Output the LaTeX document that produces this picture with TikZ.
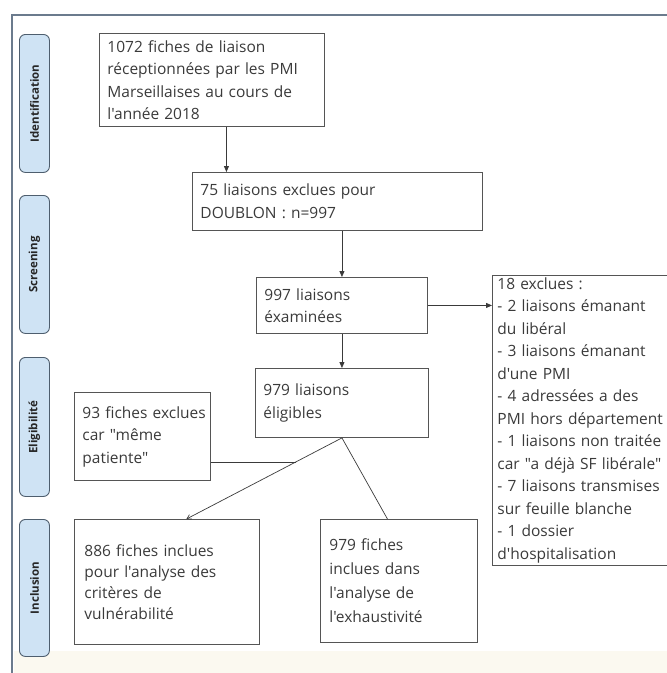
\documentclass[tikz,border=0pt]{standalone}
\usepackage{fontspec}
\setmainfont{Open Sans}[Ligatures=TeXOff]
\usetikzlibrary{calc,arrows.meta}
\definecolor{txtgray}{HTML}{3A3A3A}
\definecolor{boxline}{HTML}{555555}
\definecolor{phasefill}{HTML}{CFE3F4}
\definecolor{phaseline}{HTML}{4E5E6E}
\definecolor{frameline}{HTML}{6B7B8D}
\definecolor{cream}{HTML}{FBF9F0}
\begin{document}
\begin{tikzpicture}[x=1pt, y=-1pt,
  flowbox/.style={draw=boxline, line width=0.9pt, anchor=north west, align=left,
    inner xsep=8pt, inner ysep=2pt, text=txtgray,
    font=\fontsize{15.5}{22.5}\selectfont},
  phase/.style={draw=phaseline, fill=phasefill, line width=0.9pt, rounded corners=6pt,
    anchor=north west, minimum width=30pt},
  phasetext/.style={rotate=90, text=black!85, font=\bfseries\fontsize{11.5}{13}\selectfont},
  arr/.style={draw=txtgray, line width=0.8pt, -{Triangle[length=6pt, width=5pt]}},
  link/.style={draw=txtgray, line width=0.7pt}]
\useasboundingbox (0,0) rectangle (667,673);
% frame
\fill[cream] (14,651) rectangle (667,673);
\draw[frameline, line width=1.8pt] (12,673) -- (12,15) -- (667,15);
% phases
\node[phase, minimum height=138pt] (pident) at (19,34) {};
\node[phasetext] at (pident.center) {Identification};
\node[phase, minimum height=138pt] (pscreen) at (19,195) {};
\node[phasetext] at (pscreen.center) {Screening};
\node[phase, minimum height=139pt] (pelig) at (19,357) {};
\node[phasetext] at (pelig.center) {Eligibilité};
\node[phase, minimum height=137pt] (pincl) at (19,519) {};
\node[phasetext] at (pincl.center) {Inclusion};
% boxes
\node[flowbox, minimum width=225pt, minimum height=93pt, text width=209pt] (recues) at (99,33)
  {1072 fiches de liaison\\ réceptionnées par les PMI\\ Marseillaises au cours de\\ l'année 2018};
\node[flowbox, minimum width=290pt, minimum height=58pt, text width=274pt] (doublon) at (192,172)
  {75 liaisons exclues pour\\ DOUBLON : n=997};
\node[flowbox, minimum width=171pt, minimum height=56pt, text width=155pt] (examinees) at (256,277)
  {997 liaisons\\ éxaminées};
\node[flowbox, minimum width=173pt, minimum height=69pt, text width=157pt] (eligibles) at (255,368)
  {979 liaisons\\ éligibles\\[10pt]};
\node[flowbox, minimum width=182pt, minimum height=283pt, text width=172pt, inner xsep=5pt] (exclues) at (492,275)
  {18 exclues :\\ - 2 liaisons émanant\\ du libéral\\ - 3 liaisons émanant\\ d'une PMI\\ - 4 adressées a des\\ PMI hors département\\ - 1 liaisons non traitée\\ car "a déjà SF libérale"\\ - 7 liaisons transmises\\ sur feuille blanche\\ - 1 dossier\\ d'hospitalisation};
\node[flowbox, minimum width=136pt, minimum height=88pt, text width=128pt, inner xsep=4pt] (patiente) at (74,392)
  {\hspace*{4pt}93 fiches exclues\\ \hspace*{4pt}car "même\\ \hspace*{4pt}patiente"};
\node[flowbox, minimum width=185pt, minimum height=125pt, text width=165pt, inner xsep=10pt,
  font=\fontsize{15.5}{21}\selectfont] (vulner) at (74,519)
  {886 fiches inclues\\ pour l'analyse des\\ critères de\\ vulnérabilité\\[18pt]};
\node[flowbox, minimum width=157pt, minimum height=123pt, text width=139pt, inner xsep=9pt,
  font=\fontsize{15.5}{24}\selectfont] (exhaust) at (320,519)
  {979 fiches\\ inclues dans\\ l'analyse de\\ l'exhaustivité\\[16pt]};
% connectors
\draw[arr] ([xshift=14.5pt]recues.south) -- ([xshift=14.5pt]recues.south |- doublon.north);
\draw[arr] (doublon.south -| examinees.north) -- (examinees.north);
\draw[arr] (examinees.south) -- (eligibles.north);
\draw[arr] (examinees.east) -- (examinees.east -| exclues.west);
\draw[link, -{Straight Barb[length=4pt, width=5pt]}] (eligibles.south) -- ([xshift=19.5pt]vulner.north);
\draw[link] (eligibles.south) -- ([xshift=-11.5pt]exhaust.north);
\coordinate (jonction) at ($(eligibles.south)!0.296!([xshift=19.5pt]vulner.north)$);
\draw[link] (jonction) -- (jonction -| patiente.east);
\end{tikzpicture}
\end{document}
